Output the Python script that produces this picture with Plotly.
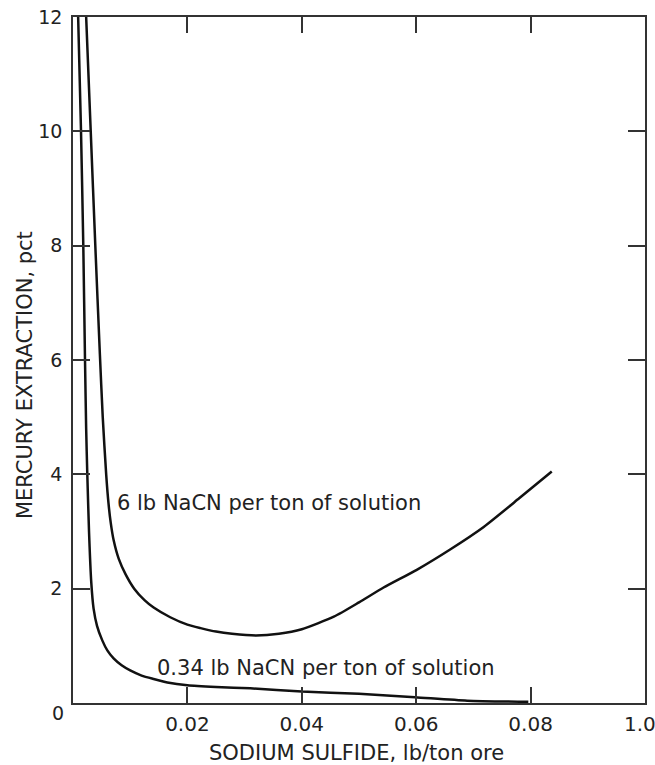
import plotly.graph_objects as go

# 6 lb NaCN per ton of solution
x_high = [0.0023, 0.0031, 0.0039, 0.0047, 0.0052, 0.0058, 0.0062, 0.0066, 0.0071, 0.0080,
          0.0092, 0.0107, 0.0125, 0.0141, 0.0170, 0.0200, 0.0223, 0.0250, 0.0278, 0.0320,
          0.0360, 0.0400, 0.0456, 0.0500, 0.0543, 0.0601, 0.0660, 0.0718, 0.0780, 0.0837]
y_high = [12.0, 10.0, 8.0, 6.1, 5.0, 4.0, 3.5, 3.15, 2.85, 2.52,
          2.25, 2.0, 1.80, 1.67, 1.50, 1.37, 1.31, 1.25, 1.21, 1.18,
          1.21, 1.29, 1.51, 1.76, 2.02, 2.33, 2.69, 3.08, 3.58, 4.05]

# 0.34 lb NaCN per ton of solution
x_low = [0.0009, 0.0014, 0.0018, 0.0021, 0.0023, 0.0025, 0.0028, 0.0032, 0.0036, 0.0042,
         0.0051, 0.0060, 0.0071, 0.0085, 0.0100, 0.0120, 0.0141, 0.0165, 0.0200, 0.0250,
         0.0310, 0.0400, 0.0500, 0.0598, 0.0689, 0.0796]
y_low = [12.0, 10.0, 8.0, 6.0, 4.8, 4.0, 3.0, 2.1, 1.65, 1.35,
         1.10, 0.92, 0.78, 0.66, 0.57, 0.48, 0.42, 0.36, 0.31, 0.28,
         0.257, 0.20, 0.16, 0.10, 0.04, 0.02]

x_tickvals = [0.02, 0.04, 0.06, 0.08, 0.10]
x_ticktext = ["0.02", "0.04", "0.06", "0.08", "1.0"]
y_tickvals = [0, 2, 4, 6, 8, 10, 12]
y_ticktext = ["0", "2", "4", "6", "8", "10", "12"]

label_high = "6 lb NaCN per ton of solution"
label_low = "0.34 lb NaCN per ton of solution"
x_title = "SODIUM SULFIDE, lb/ton ore"
y_title = "MERCURY EXTRACTION, pct"

FONT = "DejaVu Sans"
INK = "#222222"
AX = "#333333"

fig = go.Figure()
for xs, ys in [(x_high, y_high), (x_low, y_low)]:
    fig.add_trace(go.Scatter(x=xs, y=ys, mode="lines",
                             line=dict(color="#111111", width=2.5, shape="spline", smoothing=0.6),
                             showlegend=False, hoverinfo="skip"))

fig.add_annotation(x=0.0074, y=3.5, text=label_high, showarrow=False,
                   xanchor="left", yanchor="middle", font=dict(family=FONT, size=21, color=INK))
fig.add_annotation(x=0.0144, y=0.61, text=label_low, showarrow=False,
                   xanchor="left", yanchor="middle", font=dict(family=FONT, size=21, color=INK))
# corner "0" (sits below the other y labels) and the last x label (pulled inside the page)
fig.add_annotation(x=0, y=0, text=y_ticktext[0], showarrow=False, xanchor="center", yanchor="middle",
                   xshift=-15, yshift=-10, font=dict(family=FONT, size=19, color=INK))
fig.add_annotation(x=x_tickvals[-1], y=0, text=x_ticktext[-1], showarrow=False,
                   xanchor="center", yanchor="middle", xshift=-5, yshift=-21,
                   font=dict(family=FONT, size=20, color=INK))
fig.add_annotation(xref="paper", yref="paper", x=0.4965, y=0, text=x_title, showarrow=False,
                   xanchor="center", yanchor="middle", yshift=-50,
                   font=dict(family=FONT, size=21, color=INK))
fig.add_annotation(xref="paper", yref="paper", x=0, y=0.478, text=y_title, showarrow=False,
                   xanchor="center", yanchor="middle", xshift=-48, textangle=-90,
                   font=dict(family=FONT, size=21, color=INK))

fig.update_layout(
    width=655, height=765,
    margin=dict(l=73, r=10, t=17, b=62),
    paper_bgcolor="white", plot_bgcolor="white",
    font=dict(family=FONT, color=INK),
)
fig.update_xaxes(range=[0, 0.1], tickvals=x_tickvals, ticktext=x_ticktext[:-1] + [""],
                 automargin=False, ticklabeloverflow="allow",
                 showgrid=False, zeroline=False, showline=True, linecolor=AX, linewidth=1.5,
                 mirror="ticks", ticks="inside", ticklen=16, tickwidth=1.5, tickcolor=AX,
                 tickfont=dict(family=FONT, size=20, color=INK), ticklabelstandoff=2)
fig.update_yaxes(range=[0, 12], tickvals=y_tickvals, ticktext=[""] + y_ticktext[1:],
                 automargin=False, ticklabeloverflow="allow",
                 showgrid=False, zeroline=False, showline=True, linecolor=AX, linewidth=1.5,
                 mirror="ticks", ticks="inside", ticklen=17, tickwidth=1.5, tickcolor=AX,
                 tickfont=dict(family=FONT, size=19, color=INK), ticklabelstandoff=5)

fig.write_html("out.html", config={"displayModeBar": False},
               post_script="document.body.style.margin='0';document.body.style.overflow='hidden';")
